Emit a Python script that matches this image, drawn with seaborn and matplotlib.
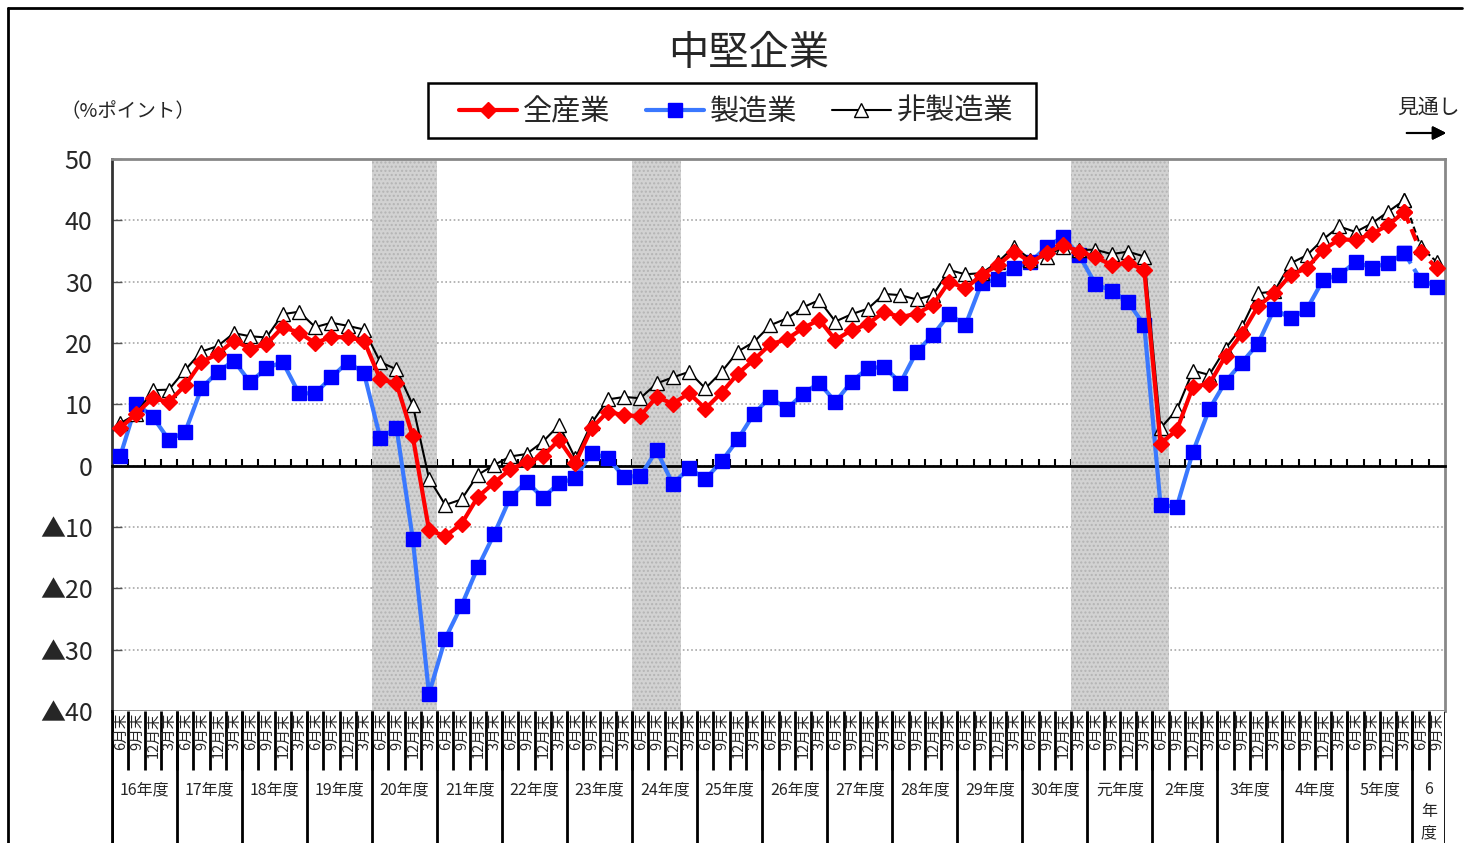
import numpy as np
import pandas as pd
import seaborn as sns
import matplotlib.pyplot as plt
from matplotlib.lines import Line2D
from matplotlib.patches import Rectangle

# quarter / fiscal year labels
quarter_names = ['6月末', '9月末', '12月末', '3月末']
year_labels = ['16年度', '17年度', '18年度', '19年度', '20年度', '21年度', '22年度',
               '23年度', '24年度', '25年度', '26年度', '27年度', '28年度', '29年度',
               '30年度', '元年度', '2年度', '3年度', '4年度', '5年度', '6\n年\n度']
quarter_labels = quarter_names * 20 + quarter_names[:2]

# BSI values (%ポイント)
all_industries = [6.1, 8.5, 11.0, 10.4, 13.1, 16.9, 18.2, 20.4, 19.1, 19.8,
                  22.6, 21.7, 20.0, 21.0, 20.9, 20.4, 14.1, 13.4, 4.8, -10.5,
                  -11.5, -9.5, -5.1, -2.8, -0.6, 0.6, 1.5, 4.2, 0.4, 6.1,
                  8.8, 8.2, 8.1, 11.2, 10.1, 11.8, 9.3, 11.9, 15.0, 17.3,
                  19.8, 20.6, 22.4, 23.8, 20.5, 22.1, 23.1, 25.1, 24.2, 24.8,
                  26.2, 30.0, 28.9, 31.1, 32.7, 34.9, 33.2, 34.6, 36.0, 34.9,
                  34.0, 32.7, 33.1, 31.9, 3.6, 5.8, 12.9, 13.3, 17.9, 21.5,
                  26.0, 28.1, 31.1, 32.2, 35.2, 36.9, 36.8, 37.8, 39.2, 41.4,
                  34.9, 32.2]
manufacturing = [1.5, 10.1, 8.0, 4.2, 5.5, 12.6, 15.3, 17.1, 13.6, 15.9,
                 16.9, 11.8, 11.8, 14.4, 16.9, 15.1, 4.5, 6.2, -11.9, -37.2,
                 -28.2, -22.8, -16.6, -11.2, -5.2, -2.6, -5.2, -2.9, -2.0, 2.1,
                 1.2, -1.8, -1.7, 2.5, -3.0, -0.4, -2.2, 0.7, 4.3, 8.5,
                 11.2, 9.2, 11.7, 13.5, 10.4, 13.7, 15.9, 16.1, 13.5, 18.6,
                 21.3, 24.7, 22.9, 29.8, 30.4, 32.2, 33.2, 35.7, 37.3, 34.3,
                 29.6, 28.5, 26.7, 22.9, -6.4, -6.7, 2.3, 9.2, 13.7, 16.8,
                 19.9, 25.6, 24.0, 25.5, 30.3, 31.1, 33.2, 32.3, 33.0, 34.7,
                 30.3, 29.2]
non_manufacturing = [6.9, 8.4, 12.3, 12.4, 15.6, 18.6, 19.5, 21.6, 21.1, 20.9,
                     24.7, 25.1, 22.6, 23.3, 22.8, 22.2, 16.9, 15.7, 9.9, -2.1,
                     -6.4, -5.5, -1.5, 0.1, 1.5, 1.9, 3.9, 6.6, 1.2, 6.9,
                     10.8, 11.2, 11.0, 13.4, 14.4, 15.3, 12.6, 15.3, 18.6, 20.2,
                     22.9, 24.0, 25.8, 27.0, 23.5, 24.7, 25.6, 28.0, 27.8, 27.1,
                     27.8, 31.9, 31.2, 31.4, 33.2, 35.7, 33.6, 34.1, 35.7, 35.2,
                     35.2, 34.5, 34.9, 34.1, 6.1, 9.1, 15.5, 14.8, 19.1, 22.6,
                     28.1, 28.4, 33.0, 34.3, 36.9, 39.0, 38.1, 39.5, 41.4, 43.3,
                     35.7, 33.2]

# shaded periods (first and last quarter index)
shade_periods = [(16, 19), (32, 34), (59, 64)]
n_forecast = 2

sns.set_style('white')
plt.rcParams['font.family'] = ['Noto Sans CJK JP', 'DejaVu Sans']

n = len(all_industries)
df = pd.DataFrame({'q': np.arange(n), '全産業': all_industries,
                   '製造業': manufacturing, '非製造業': non_manufacturing})
actual = df.iloc[:n - n_forecast]
forecast = df.iloc[n - n_forecast - 1:]

W, H = 1468, 843
fig = plt.figure(figsize=(W / 100, H / 100), dpi=100)
ax = fig.add_axes([112 / W, (H - 711) / H, 1333 / W, 552 / H])
axb = fig.add_axes([112 / W, 0, 1333 / W, (H - 711) / H])

# series styles: column, line colour, marker, marker face, marker edge, lw, ms
styles = [
    ('製造業', '#3a78ff', 's', '#0000ff', '#0000ff', 3.0, 10),
    ('非製造業', 'black', '^', 'white', 'black', 1.5, 10),
    ('全産業', '#ff0000', 'D', '#ff0000', '#ff0000', 3.0, 8.5),
]
for z, (col, c, m, mfc, mec, lw, ms) in enumerate(styles):
    sns.lineplot(data=actual, x='q', y=col, ax=ax, color=c, lw=lw,
                 marker=m, markersize=ms, markerfacecolor=mfc,
                 markeredgecolor=mec, markeredgewidth=1.0, label=col,
                 zorder=3 + z)
    sns.lineplot(data=forecast, x='q', y=col, ax=ax, color=c, lw=lw,
                 linestyle=(0, (3, 1.5)), marker=m, markersize=ms,
                 markerfacecolor=mfc, markeredgecolor=mec,
                 markeredgewidth=1.0, zorder=3 + z)
if ax.get_legend() is not None:
    ax.get_legend().remove()

for a, b in shade_periods:
    ax.axvspan(a - 0.5, b + 0.5, facecolor='#d2d2d2', hatch='....',
               edgecolor='#b4b4b4', lw=0, zorder=1)

ax.set_xlim(-0.5, n - 0.5)
ax.set_ylim(-40, 50)
ax.set_xlabel('')
ax.set_ylabel('')
ax.set_axisbelow(True)
yt = np.arange(-40, 51, 10)
ax.set_yticks(yt)
ax.set_yticklabels([f'▲{-v}' if v < 0 else str(v) for v in yt], fontsize=18)
ax.yaxis.grid(True, color='#a8a8a8', lw=1.2, linestyle=(0, (1, 1.5)))
ax.xaxis.grid(False)
ax.tick_params(axis='y', direction='in', length=7, width=1, pad=14,
               left=True, color='#555555')
ax.set_xticks(np.arange(0.5, n - 1, 1))
ax.tick_params(axis='x', direction='in', length=5, width=1.5, color='black',
               labelbottom=False, bottom=True)
ax.spines['bottom'].set_position(('data', 0))
ax.spines['bottom'].set_color('black')
ax.spines['bottom'].set_linewidth(2)
ax.spines['left'].set_color('#333333')
ax.spines['left'].set_linewidth(2)
for s in ['top', 'right']:
    ax.spines[s].set_color('#888888')
    ax.spines[s].set_linewidth(2)
ax.axhline(-40, color='#888888', lw=2, clip_on=False, zorder=6)

# label area below the plot
axb.set_xlim(-0.5, n - 0.5)
axb.set_ylim(0, 1)
axb.set_xticks([])
axb.set_yticks([])
for s in ['top', 'right', 'bottom']:
    axb.spines[s].set_visible(False)
axb.spines['left'].set_color('black')
axb.spines['left'].set_linewidth(2)
qb = np.arange(0.5, n - 1, 1)
axb.vlines(qb, 1 - 59 / 132, 1, color='black', lw=2)
yb = list(np.arange(-0.5, n, 4)) + [n - 0.5]
axb.vlines(yb, 0, 1, color='black', lw=2)
for i, lab in enumerate(quarter_labels):
    axb.text(i + 0.04, 0.99, lab, rotation=90, ha='center', va='top',
             fontsize=10.5)
for k, lab in enumerate(year_labels):
    if '\n' in lab:
        axb.text(4 * k + 0.5, 0.47, lab, ha='center', va='top', fontsize=11.5,
                 linespacing=1.35)
    else:
        axb.text(4 * k + 1.5, 0.40, lab, ha='center', va='center',
                 fontsize=11.5)

# titles and annotations
fig.text(749 / W, 1 - 54 / H, '中堅企業', ha='center', va='center', fontsize=29)
fig.text(60 / W, 1 - 112 / H, '（%ポイント）', ha='left', va='center',
         fontsize=14)
fig.text(1428 / W, 1 - 108 / H, '見通し', ha='center', va='center',
         fontsize=15)
fig.add_artist(plt.annotate('', xy=(1449 / W, 1 - 133 / H),
                            xytext=(1404 / W, 1 - 133 / H),
                            xycoords='figure fraction',
                            arrowprops=dict(arrowstyle='-|>', color='black',
                                            lw=1.5, mutation_scale=20)))

# legend box and entries
fig.add_artist(Rectangle((428 / W, 1 - 138 / H), 608 / W, 55 / H,
                         transform=fig.transFigure, facecolor='white',
                         edgecolor='black', lw=1.8))
handles, labels = ax.get_legend_handles_labels()
order = [labels.index(l) for l in ['全産業', '製造業', '非製造業']]
leg = fig.legend([handles[i] for i in order], [labels[i] for i in order],
                 loc='center', bbox_to_anchor=(736 / W, 1 - 112 / H), ncol=3,
                 fontsize=21, frameon=False, handlelength=2.0,
                 columnspacing=1.2, handletextpad=0.2)

# outer frame lines
fig.add_artist(Line2D([8 / W, 8 / W], [0, 1 - 8 / H], color='black', lw=2))
fig.add_artist(Line2D([8 / W, 1462 / W], [1 - 8 / H, 1 - 8 / H],
                      color='black', lw=2))

fig.savefig('out.png', dpi=100)
